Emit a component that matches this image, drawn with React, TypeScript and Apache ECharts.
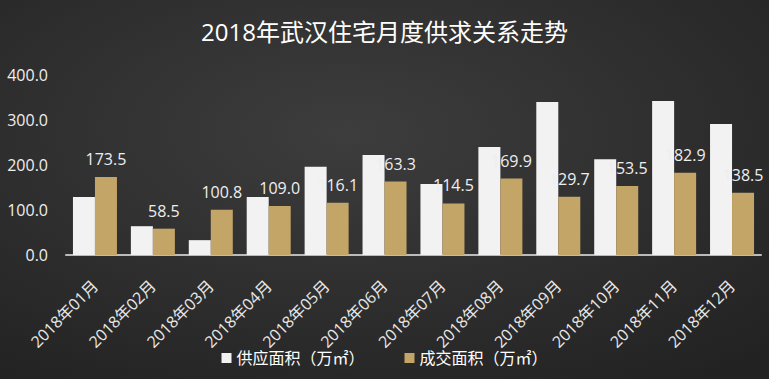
import React, { useEffect, useRef } from "react";
import * as echarts from "echarts";

const TITLE = "2018年武汉住宅月度供求关系走势";
const CATEGORIES = [
  "2018年01月", "2018年02月", "2018年03月", "2018年04月", "2018年05月", "2018年06月",
  "2018年07月", "2018年08月", "2018年09月", "2018年10月", "2018年11月", "2018年12月",
];
const SUPPLY_NAME = "供应面积（万㎡）";
const DEAL_NAME = "成交面积（万㎡）";
const SUPPLY = [129, 64, 33, 129, 196, 222, 158, 240, 340, 213, 342, 291];
const DEAL = [173.5, 58.5, 100.8, 109.0, 116.1, 163.3, 114.5, 169.9, 129.7, 153.5, 182.9, 138.5];
const Y_TICKS = [0, 100, 200, 300, 400];

const FONT = "'Open Sans', 'Noto Sans CJK SC', sans-serif";

export default function App() {
  const ref = useRef<HTMLDivElement>(null);
  useEffect(() => {
    document.body.style.margin = "0";
    const chart = echarts.init(ref.current!, undefined, { renderer: "svg" });
    chart.setOption({
      animation: false,
      backgroundColor: {
        type: "radial",
        x: 0.45,
        y: 0.35,
        r: 0.8,
        colorStops: [
          { offset: 0, color: "#3d3d3d" },
          { offset: 1, color: "#222222" },
        ],
      },
      textStyle: { fontFamily: FONT },
      title: {
        text: TITLE,
        left: "center",
        top: 14,
        textStyle: { color: "#ffffff", fontSize: 24, fontWeight: "normal", fontFamily: FONT },
      },
      legend: {
        bottom: 8,
        left: "center",
        itemWidth: 10,
        itemHeight: 10,
        itemGap: 40,
        icon: "rect",
        textStyle: { color: "#ffffff", fontSize: 16, fontFamily: FONT },
        data: [SUPPLY_NAME, DEAL_NAME],
      },
      grid: { left: 66, right: 8, top: 75, bottom: 124, containLabel: false },
      xAxis: {
        type: "category",
        data: CATEGORIES,
        axisLine: { lineStyle: { color: "#bbbbbb", width: 2 } },
        axisTick: { show: false },
        axisLabel: { color: "#e8e8e8", fontSize: 16, rotate: 45, margin: 28, interval: 0, fontFamily: FONT },
      },
      yAxis: {
        type: "value",
        min: Y_TICKS[0],
        max: Y_TICKS[Y_TICKS.length - 1],
        interval: 100,
        axisLine: { show: false },
        axisTick: { show: false },
        splitLine: { show: false },
        axisLabel: {
          color: "#eeeeee",
          fontSize: 16,
          margin: 18,
          fontFamily: FONT,
          formatter: (v: number) => v.toFixed(1),
        },
      },
      series: [
        {
          name: SUPPLY_NAME,
          type: "bar",
          data: SUPPLY,
          barWidth: 22,
          barGap: "0%",
          itemStyle: { color: "#f2f2f2" },
        },
        {
          name: DEAL_NAME,
          type: "bar",
          data: DEAL,
          barWidth: 22,
          barGap: "0%",
          itemStyle: { color: "#c4a568" },
          label: {
            show: true,
            position: "top",
            distance: 10,
            color: "#eeeeee",
            fontSize: 16,
            fontFamily: FONT,
            formatter: (p: any) => Number(p.value).toFixed(1),
          },
        },
      ],
    });
    return () => chart.dispose();
  }, []);
  return <div ref={ref} style={{ width: 769, height: 379 }} />;
}
